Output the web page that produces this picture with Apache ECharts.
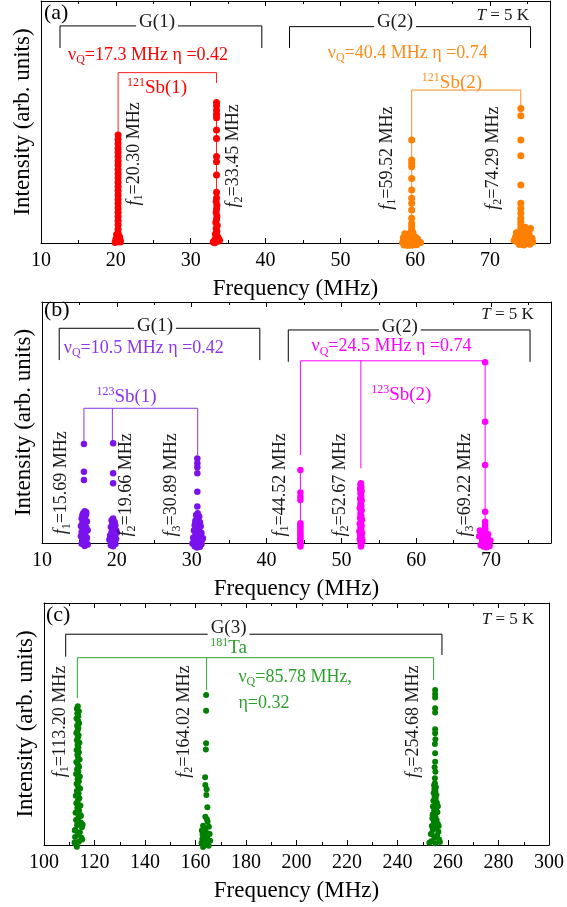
<!DOCTYPE html>
<html><head><meta charset="utf-8">
<script src="https://cdn.jsdelivr.net/npm/echarts@6/dist/echarts.min.js"></script>
<style>html,body{margin:0;padding:0;background:#fff;}#c{width:567px;height:907px;}</style>
</head><body><div id="c"></div>
<script>
// ---------- Panel (a): 121Sb ----------
const a_Sb1_f1_x = [20.30,20.30,20.30,20.30,20.30,20.30,20.30,20.30,20.30,20.30,20.30,20.30,20.30,20.30,20.30,20.30,20.30,20.30,20.30,20.30,20.30,20.30,20.30,20.30,20.30,20.30,20.00,20.60,19.90,20.60,20.10,20.50];
const a_Sb1_f1_y = [44.6,42.8,41.0,39.2,37.5,35.7,33.9,32.2,30.4,28.6,26.9,25.1,23.3,21.6,19.8,18.0,16.3,14.5,12.7,11.0,9.2,7.5,5.7,4.0,2.2,0.5,1.5,1.0,0.2,0.4,3.5,2.6];
const a_Sb1_f2_x = [33.45,33.45,33.45,33.45,33.45,33.45,33.45,33.45,33.45,33.45,33.45,33.45,33.40,33.50,33.45,33.40,33.50,33.45,33.35,33.55,33.40,33.50,33.30,33.60,33.25,33.65,33.20,33.70,33.00,33.85];
const a_Sb1_f2_y = [58.1,56.7,54.9,53.2,51.8,46.7,43.2,35.7,33.6,28.1,21.0,18.6,17.1,15.6,14.1,12.6,11.2,9.8,8.5,7.2,6.0,4.8,3.7,2.6,1.6,0.7,0.1,2.0,0.4,1.1];
const a_Sb2_f1_x = [59.52,59.52,59.52,59.52,59.52,59.52,59.52,59.52,59.52,59.52,59.52,59.52,59.52,58.3,58.6,58.9,59.2,59.5,59.8,60.1,60.4,60.7,58.4,58.8,59.1,59.4,59.7,60.0,60.3,58.5,59.0,59.6,60.2,59.3,59.7,59.5,58.6,59.8];
const a_Sb2_f1_y = [42.6,34.3,32.9,31.5,26.7,21.9,18.5,16.4,13.6,10.2,8.1,6.8,5.6,0.2,0.8,0.3,1.0,0.4,0.9,0.3,0.7,0.2,2.2,2.6,1.9,2.8,2.1,2.5,1.8,-0.8,-1.0,-0.9,-0.7,4.0,4.2,3.4,3.8,-0.5];
const a_Sb2_f2_x = [74.1,74.1,74.1,74.1,74.1,74.1,74.1,74.1,74.1,74.1,74.1,73.2,73.4,73.6,73.8,74.0,74.2,74.4,74.6,74.8,75.0,75.2,75.4,75.6,75.7,73.5,74.1,74.9,75.3,73.9,74.5,75.1,74.7];
const a_Sb2_f2_y = [55.6,52.6,42.6,36.1,24.0,16.4,14.3,12.3,10.2,8.8,7.4,1.0,2.5,0.5,3.5,1.5,4.5,0.8,2.8,5.5,1.2,3.8,6.0,2.0,0.4,4.2,5.8,0.3,-0.5,-0.6,-0.8,4.8,6.5];

// ---------- Panel (b): 123Sb ----------
const b_Sb1_f1_x = [15.6,15.6,15.6,15.7,15.5,15.9,15.6,15.3,15.8,16.0,15.4,15.7,15.2,15.9,15.5,16.1,15.3,15.8,15.6,15.2,16.0,15.4,15.9,15.6,15.3,16.1,15.7,15.5,15.8,15.4,15.9];
const b_Sb1_f1_y = [41.1,29.6,26.1,13.2,12.3,11.8,10.9,10.2,9.6,8.9,8.3,7.8,7.1,6.5,5.9,5.3,4.7,4.1,3.4,2.8,2.2,1.6,1.0,0.4,-0.3,-0.6,-1.2,2.5,6.0,11.5,12.8];
const b_Sb1_f2_x = [19.5,19.5,19.5,19.5,19.3,19.7,19.4,19.8,19.2,19.6,19.9,19.3,19.7,19.1,19.5,19.9,19.3,19.6,19.8,19.2,19.5,19.4,19.7,19.0,20.0];
const b_Sb1_f2_y = [41.4,28.9,24.8,10.2,9.4,8.7,8.0,7.3,6.6,5.9,5.2,4.5,3.8,3.1,2.4,1.7,1.0,0.3,-0.4,-0.9,-1.4,6.2,2.8,1.4,4.3];
const b_Sb1_f3_x = [30.75,30.75,30.75,30.75,30.75,30.75,30.8,30.6,31.0,30.7,30.9,30.5,31.1,30.8,30.4,31.2,30.6,31.0,30.3,30.9,31.3,30.5,30.8,31.1,30.2,30.7,31.4,30.4,31.0,30.6,30.1,31.3,30.8,30.4,31.1,30.7,30.9,30.5,31.2,30.3,31.5];
const b_Sb1_f3_y = [35.1,33.1,31.4,28.9,21.3,15.1,12.3,11.6,11.0,10.4,9.8,9.2,8.6,8.0,7.4,6.9,6.3,5.8,5.2,4.7,4.2,3.7,3.2,2.7,2.2,1.8,1.4,1.0,0.6,0.2,-0.2,-0.5,-0.9,-1.3,-1.6,-1.9,5.5,8.5,3.5,0.5,2.0];
const b_Sb2_f1_x = [44.52,44.52,44.52,44.52,44.52,44.52,44.52,44.52,44.52,44.52,44.52,44.52,44.52,44.52,44.52];
const b_Sb2_f1_y = [30.3,21.0,19.2,17.8,8.2,7.2,6.2,5.2,4.2,3.2,2.2,1.2,0.2,-0.8,-1.5];
const b_Sb2_f2_x = [52.60,52.55,52.65,52.50,52.70,52.55,52.60,52.65,52.50,52.70,52.60,52.55,52.65,52.45,52.70,52.60,52.55,52.65,52.50,52.75,52.60,52.45,52.70,52.55,52.65,52.40,52.75,52.50,52.70,52.45,52.80,52.55,52.65,52.60];
const b_Sb2_f2_y = [24.8,24.0,23.2,22.4,21.6,20.8,20.0,19.2,18.4,17.6,16.8,16.0,15.2,14.4,13.6,12.8,12.0,11.2,10.4,9.6,8.8,8.0,7.2,6.4,5.6,4.8,4.0,3.2,2.4,1.6,0.8,0.0,-0.8,-1.5];
const b_Sb2_f3_x = [69.2,69.2,69.2,69.2,69.2,69.2,69.2,68.5,68.7,68.4,68.9,69.1,69.3,69.5,69.7,69.9,68.6,69.0,69.4,69.8,69.2,68.8,69.6];
const b_Sb2_f3_y = [75.0,50.3,32.4,13.0,8.8,7.5,6.1,5.2,4.0,2.8,1.5,3.3,0.4,2.0,-0.5,1.0,-0.8,-1.5,-1.8,-1.2,5.8,0.8,3.6];

// ---------- Panel (c): 181Ta ----------
const c_Ta_f1_x = [113.4,113.0,113.8,113.2,113.6,112.9,113.5,113.9,113.1,113.6,113.3,112.8,113.7,113.4,113.0,114.0,113.3,113.6,112.9,113.8,113.2,113.5,114.1,112.8,113.4,113.9,113.1,113.6,112.7,114.2,113.3,113.8,112.9,113.5,114.3,113.0,113.7,112.6,114.0,113.4,112.8,114.4,113.2,113.9,112.5,114.5,113.6,112.7,114.6,113.1,115.0,112.4,114.2,113.5,112.3,115.1,113.8,112.6,113.0,114.8,112.2,115.3,114.6,112.1];
const c_Ta_f1_y = [57.3,56.3,55.3,54.3,53.3,52.3,51.3,50.3,49.3,48.3,47.3,46.3,45.3,44.3,43.3,42.3,41.3,40.3,39.3,38.3,37.3,36.3,35.3,34.3,33.3,32.3,31.3,30.3,29.3,28.3,27.3,26.3,25.3,24.3,23.3,22.3,21.3,20.3,19.3,18.3,17.3,16.3,15.3,14.3,13.3,12.3,11.3,10.3,9.3,8.3,7.3,6.3,5.3,4.3,3.3,2.3,1.3,0.3,-0.7,3.0,6.0,8.5,12.0,1.0];
const c_Ta_f2_x = [164.2,164.2,164.2,164.1,163.8,163.9,164.4,164.3,164.7,163.9,164.5,164.8,163.0,165.3,162.5,164.0,165.6,163.3,162.7,164.6,165.8,163.5,162.4,164.2,165.2,163.0,164.8,162.8,163.7];
const c_Ta_f2_y = [62.0,55.5,42.0,39.5,28.0,24.8,23.0,20.7,15.6,11.7,10.6,9.6,8.0,7.5,6.0,5.5,4.5,3.8,2.5,2.8,1.8,1.2,0.8,0.3,-0.3,-0.8,4.8,4.3,6.6];
const c_Ta_f3_x = [254.9,254.9,254.9,254.9,254.9,254.9,254.9,255.0,254.8,254.9,254.9,254.7,255.0,254.8,254.8,254.5,255.2,254.6,255.0,254.3,255.4,254.7,255.1,254.2,255.6,254.9,254.0,255.3,254.5,255.8,254.1,255.0,253.8,255.5,254.4,256.0,253.6,255.2,254.0,256.2,253.5,255.7,254.6,256.5,253.4,255.0,252.6,256.8,253.2,256.3,253.9,256.0];
const c_Ta_f3_y = [64.0,62.4,61.0,56.5,54.8,47.8,46.2,43.7,41.7,37.9,34.4,32.1,30.3,27.6,25.5,24.7,23.9,23.1,22.3,21.5,20.7,19.9,19.1,18.3,17.5,16.7,15.9,15.1,14.3,13.5,12.7,11.9,11.1,10.3,9.5,8.7,7.9,7.1,6.3,5.5,4.7,3.9,3.1,2.3,1.5,0.7,0.9,1.2,4.5,7.8,12.5,16.0];

// tick / range settings per panel
const xRanges = [[10,78,10,5],[10,78,10,5],[100,300,20,10]];

const F = 'Liberation Serif';
const chart = echarts.init(document.getElementById('c'));
const grids = [
  {left:41, top:1, width:509, height:242},
  {left:42, top:302, width:509, height:241},
  {left:44, top:603, width:509, height:242}
];
const xAxes = [], yAxes = [];
grids.forEach((g, i) => {
  const [mn, mx, maj, mnr] = xRanges[i];
  const base = {type:'value', gridIndex:i, min:mn, max:mx, splitLine:{show:false}};
  xAxes.push(Object.assign({}, base, {position:'bottom', interval:maj,
    axisLine:{show:true, lineStyle:{color:'#000', width:1}},
    axisTick:{show:true, inside:true, length:5, lineStyle:{color:'#000'}},
    axisLabel:{show:true, color:'#000', fontFamily:F, fontSize:20, margin:8, showMaxLabel: mx % maj === 0},
    name:'Frequency (MHz)', nameLocation:'middle', nameGap:34,
    nameTextStyle:{color:'#000', fontFamily:F, fontSize:23}}));
  xAxes.push(Object.assign({}, base, {position:'bottom', interval:mnr,
    axisLine:{show:false}, axisTick:{show:true, inside:true, length:3, lineStyle:{color:'#000'}}, axisLabel:{show:false}}));
  xAxes.push(Object.assign({}, base, {position:'top', interval:maj,
    axisLine:{show:true, lineStyle:{color:'#000', width:1}},
    axisTick:{show:true, inside:true, length:5, lineStyle:{color:'#000'}}, axisLabel:{show:false}}));
  xAxes.push(Object.assign({}, base, {position:'top', interval:mnr,
    axisLine:{show:false}, axisTick:{show:true, inside:true, length:3, lineStyle:{color:'#000'}}, axisLabel:{show:false}}));
  yAxes.push({type:'value', gridIndex:i, min:0, max:100, position:'left',
    axisLine:{show:true, lineStyle:{color:'#000', width:1}}, axisTick:{show:false}, axisLabel:{show:false}, splitLine:{show:false},
    name:'Intensity (arb. units)', nameLocation:'middle', nameGap:7,
    nameTextStyle:{color:'#000', fontFamily:F, fontSize:23}});
  yAxes.push({type:'value', gridIndex:i, min:0, max:100, position:'right',
    axisLine:{show:true, lineStyle:{color:'#000', width:1}}, axisTick:{show:false}, axisLabel:{show:false}, splitLine:{show:false}});
});

function sc(g, xs, ys, color, size) {
  return {type:'scatter', xAxisIndex:4*g, yAxisIndex:2*g, data: xs.map((x, k) => [x, ys[k]]),
    symbol:'circle', symbolSize:size, itemStyle:{color:color, opacity:1}, clip:false, silent:true, z:4};
}
function ln(g, segs, color) {
  return {type:'lines', coordinateSystem:'cartesian2d', xAxisIndex:4*g, yAxisIndex:2*g, polyline:true,
    data: segs.map(s => ({coords:s})), lineStyle:{color:color, width:1, opacity:1, curveness:0}, silent:true, z:3};
}
const RED='#ff0000', ORG='#ff8000', PUR='#7a12ee', MAG='#ff00ff', GRN='#008000', BLK='#000', TXT='#1a1a1a';

const series = [
  // panel a
  ln(0, [[[12.54,80.6],[12.54,89.7],[39.5,89.7],[39.5,80.6]], [[43.2,80.6],[43.2,89.4],[75.4,89.4],[75.4,80.6]]], BLK),
  ln(0, [[[20.3,44.6],[20.3,70.4],[33.45,70.4],[33.45,66.1]], [[20.3,0],[20.3,44.6]], [[33.45,0],[33.45,58.1]]], '#ff2020'),
  ln(0, [[[59.52,42.6],[59.52,63.2],[74.1,63.2],[74.1,56.3]], [[59.52,0],[59.52,42.6]]], '#ff8f26'),
  sc(0, a_Sb1_f1_x, a_Sb1_f1_y, RED, 7), sc(0, a_Sb1_f2_x, a_Sb1_f2_y, RED, 7),
  sc(0, a_Sb2_f1_x, a_Sb2_f1_y, ORG, 7), sc(0, a_Sb2_f2_x, a_Sb2_f2_y, ORG, 7),
  // panel b
  ln(1, [[[12.3,75.9],[12.3,89.1],[39.1,89.1],[39.1,75.9]], [[42.9,75.2],[42.9,88.4],[75.2,88.4],[75.2,75.2]]], BLK),
  ln(1, [[[15.6,42],[15.6,55.9],[30.8,55.9],[30.8,36.5]], [[19.4,55.9],[19.4,42]]], '#8a35ee'),
  ln(1, [[[44.52,36.5],[44.52,75.6],[69.2,75.6],[69.2,0]], [[52.6,75.6],[52.6,31.0]], [[44.52,-1.5],[44.52,30.3]], [[52.6,-1.5],[52.6,24.8]]], MAG),
  sc(1, b_Sb1_f1_x, b_Sb1_f1_y, PUR, 6.5), sc(1, b_Sb1_f2_x, b_Sb1_f2_y, PUR, 6.5), sc(1, b_Sb1_f3_x, b_Sb1_f3_y, PUR, 6.5),
  sc(1, b_Sb2_f1_x, b_Sb2_f1_y, MAG, 6.5), sc(1, b_Sb2_f2_x, b_Sb2_f2_y, MAG, 6.5), sc(1, b_Sb2_f3_x, b_Sb2_f3_y, MAG, 6.5),
  // panel c
  ln(2, [[[108.6,77.8],[108.6,87.1],[257.6,87.1],[257.6,78.5]]], BLK),
  ln(2, [[[113.2,60.7],[113.2,77.4],[254.3,77.4],[254.3,68.2]], [[164.4,77.4],[164.4,64.0]]], '#2ea62e'),
  sc(2, c_Ta_f1_x, c_Ta_f1_y, GRN, 6), sc(2, c_Ta_f2_x, c_Ta_f2_y, GRN, 6), sc(2, c_Ta_f3_x, c_Ta_f3_y, GRN, 6)
];

chart.setOption({animation:false, backgroundColor:'#fff', grid:grids, xAxis:xAxes, yAxis:yAxes, series:series});

function rich(color, size) {
  return {
    n:{fontFamily:F, fontSize:size, fill:color, lineHeight:size+4},
    i:{fontFamily:F, fontSize:size, fill:color, fontStyle:'italic', lineHeight:size+4},
    sub:{fontFamily:F, fontSize:Math.round(size*0.65), fill:color, verticalAlign:'bottom', lineHeight:Math.round(size*0.65)},
    sup:{fontFamily:F, fontSize:Math.round(size*0.65), fill:color, verticalAlign:'top', lineHeight:Math.round(size*0.65)}
  };
}
function T(g, x, y, text, color, size, opt) {
  opt = opt || {};
  const p = chart.convertToPixel({xAxisIndex:4*g, yAxisIndex:2*g}, [x, y]);
  const st = {text:text, rich:rich(color, size), fill:color, font: size + 'px ' + F,
    align: opt.align || 'center', verticalAlign:'middle'};
  if (opt.bg) { st.backgroundColor = '#fff'; st.padding = [0, 3]; }
  return {type:'text', x:p[0], y:p[1], rotation: opt.rot ? Math.PI/2 : 0, z:100, silent:true, style:st};
}
const fl = (n, v) => '{i|f}{sub|' + n + '}{n|=' + v + ' MHz}';
const nuq = (s) => '{n|ν}{sub|Q}{n|' + s + '}';
const tK = '{i|T}{n| = 5 K}';
const NQ = 18;
const els = [
  T(0, 10.4, 95, '{n|(a)}', '#000', 22, {align:'left'}),
  T(0, 25.5, 91.5, '{n|G(1)}', TXT, 19, {bg:true}),
  T(0, 57.3, 91.2, '{n|G(2)}', TXT, 19, {bg:true}),
  T(0, 71.7, 94.2, tK, TXT, 17),
  T(0, 24.3, 77.7, nuq('=17.3 MHz η =0.42'), RED, NQ),
  T(0, 25.5, 64.0, '{sup|121}{n|Sb(1)}', RED, 19),
  T(0, 59.0, 78.5, nuq('=40.4 MHz η =0.74'), '#ff8c1a', NQ),
  T(0, 64.9, 66.1, '{sup|121}{n|Sb(2)}', '#ff8c1a', 19),
  T(0, 22.4, 36.8, fl(1, '20.30'), TXT, 18, {rot:true}),
  T(0, 35.75, 36.0, fl(2, '33.45'), TXT, 18, {rot:true}),
  T(0, 56.2, 35.1, fl(1, '59.52'), TXT, 18, {rot:true}),
  T(0, 70.4, 35.1, fl(2, '74.29'), TXT, 18, {rot:true}),

  T(1, 10.27, 96.7, '{n|(b)}', '#000', 22, {align:'left'}),
  T(1, 25.1, 90.0, '{n|G(1)}', TXT, 19, {bg:true}),
  T(1, 57.8, 89.7, '{n|G(2)}', TXT, 19, {bg:true}),
  T(1, 72.2, 94.6, tK, TXT, 17),
  T(1, 23.6, 80.9, nuq('=10.5 MHz η =0.42'), '#8a35ee', NQ),
  T(1, 21.3, 60.6, '{sup|123}{n|Sb(1)}', '#8a35ee', 19),
  T(1, 56.7, 81.5, nuq('=24.5 MHz η =0.74'), MAG, NQ),
  T(1, 58.0, 61.4, '{sup|123}{n|Sb(2)}', MAG, 19),
  T(1, 12.6, 25.0, fl(1, '15.69'), TXT, 18, {rot:true}),
  T(1, 21.3, 24.1, fl(2, '19.66'), TXT, 18, {rot:true}),
  T(1, 27.3, 24.1, fl(3, '30.89'), TXT, 18, {rot:true}),
  T(1, 41.8, 24.1, fl(1, '44.52'), TXT, 18, {rot:true}),
  T(1, 49.8, 24.1, fl(2, '52.67'), TXT, 18, {rot:true}),
  T(1, 66.5, 24.1, fl(3, '69.22'), TXT, 18, {rot:true}),

  T(2, 100.8, 95, '{n|(c)}', '#000', 22, {align:'left'}),
  T(2, 173.1, 89.7, '{n|G(3)}', TXT, 19, {bg:true}),
  T(2, 173.1, 81.4, '{sup|181}{n|Ta}', '#2ca02c', 19),
  T(2, 177.0, 69.5, nuq('=85.78 MHz,'), '#2ca02c', NQ, {align:'left'}),
  T(2, 177.0, 58.6, '{n|η=0.32}', '#2ca02c', NQ, {align:'left'}),
  T(2, 283.8, 93.0, tK, TXT, 17),
  T(2, 106.3, 51, fl(1, '113.20'), TXT, 18, {rot:true}),
  T(2, 155.4, 51, fl(2, '164.02'), TXT, 18, {rot:true}),
  T(2, 246.4, 51, fl(3, '254.68'), TXT, 18, {rot:true})
];
chart.setOption({graphic:{elements:els}});
</script></body></html>
